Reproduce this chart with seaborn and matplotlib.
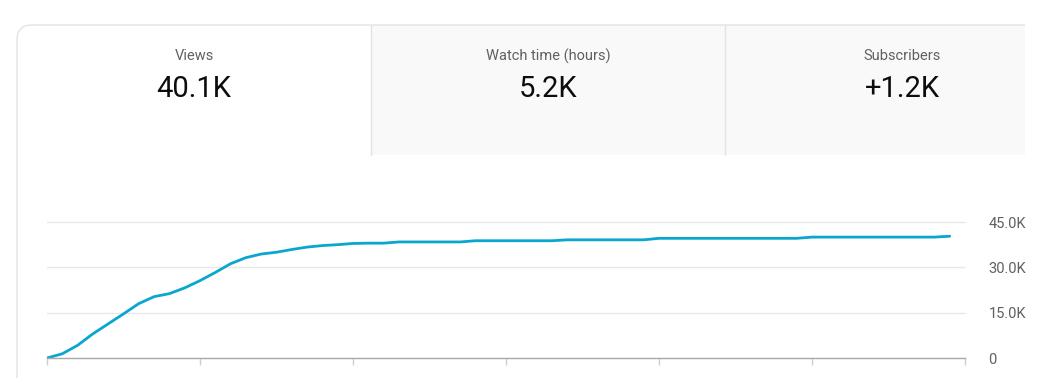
import numpy as np
import pandas as pd
import matplotlib
matplotlib.use("Agg")
import matplotlib.pyplot as plt
from matplotlib.path import Path
from matplotlib.patches import PathPatch, Rectangle
import seaborn as sns

# headline cards
card_titles = ["Views", "Watch time (hours)", "Subscribers"]
card_values = ["40.1K", "5.2K", "+1.2K"]

# cumulative views per day
days = list(range(60))
views = [0, 1400, 4200, 8000, 11300, 14600, 18000, 20300, 21300, 23200,
         25600, 28300, 31200, 33200, 34400, 35000, 35900, 36700, 37200, 37500,
         37900, 38000, 38000, 38400, 38400, 38400, 38400, 38400, 38800, 38800,
         38800, 38800, 38800, 38800, 39100, 39100, 39100, 39100, 39100, 39100,
         39600, 39600, 39600, 39600, 39600, 39600, 39600, 39600, 39600, 39600,
         40000, 40000, 40000, 40000, 40000, 40000, 40000, 40000, 40000, 40300]
y_ticks = [0, 15000, 30000, 45000]
y_labels = ["0", "15.0K", "30.0K", "45.0K"]
x_ticks = [0, 10, 20, 30, 40, 50, 60]

df = pd.DataFrame({"day": days, "views": views})

sns.set_theme(style="white")
plt.rcParams['font.family'] = ['Roboto', 'DejaVu Sans']

W, H = 1056, 378
fig = plt.figure(figsize=(W / 100, H / 100), dpi=100)
fig.patch.set_facecolor("white")

# background layer in pixel coordinates for the card frame
bg = fig.add_axes([0, 0, 1, 1], zorder=0)
bg.set_xlim(0, W)
bg.set_ylim(H, 0)
bg.axis("off")

border = "#e3e3e3"
tab_fill = "#f9f9f9"
bg.add_patch(Rectangle((371, 25), 354, 130, facecolor=tab_fill, edgecolor="none"))
bg.add_patch(Rectangle((725, 25), 300, 130, facecolor=tab_fill, edgecolor="none"))
r = 15
verts = [(17, H), (17, 25 + r), (17, 25), (17 + r, 25), (1025, 25)]
codes = [Path.MOVETO, Path.LINETO, Path.CURVE3, Path.CURVE3, Path.LINETO]
bg.add_patch(PathPatch(Path(verts, codes), facecolor="none", edgecolor=border, lw=1))
for xv in [371, 725]:
    bg.plot([xv, xv], [25, 155], color=border, lw=1)

centers = [194, 548, 902]
for cx, t, v in zip(centers, card_titles, card_values):
    bg.text(cx, 56, t, ha="center", va="center", fontsize=10.5, color="#606060")
    bg.text(cx, 89, v, ha="center", va="center", fontsize=21, color="#0d0d0d")

# chart
ax = fig.add_axes([47 / W, (H - 358) / H, (965 - 47) / W, (358 - 222) / H], zorder=1)
ax.patch.set_alpha(0)
sns.lineplot(data=df, x="day", y="views", ax=ax, color="#0aa6cf", lw=2)
ax.set_xlim(0, 60)
ax.set_ylim(0, 45000)
ax.set_xlabel("")
ax.set_ylabel("")
ax.set_yticks(y_ticks)
ax.set_yticklabels(y_labels)
ax.yaxis.tick_right()
ax.tick_params(axis="y", length=0, pad=17, labelsize=10.5, labelcolor="#606060")
ax.set_xticks(x_ticks)
ax.set_xticklabels([])
ax.tick_params(axis="x", length=5, width=1, color="#d0d0d0", direction="out", bottom=True)
for y in y_ticks[1:]:
    ax.axhline(y, color="#e8e8e8", lw=1, zorder=0, clip_on=False)
for s in ["top", "left", "right"]:
    ax.spines[s].set_visible(False)
ax.spines["bottom"].set_color("#a8a8a8")
ax.spines["bottom"].set_linewidth(1)

fig.savefig("out.png", dpi=100)
